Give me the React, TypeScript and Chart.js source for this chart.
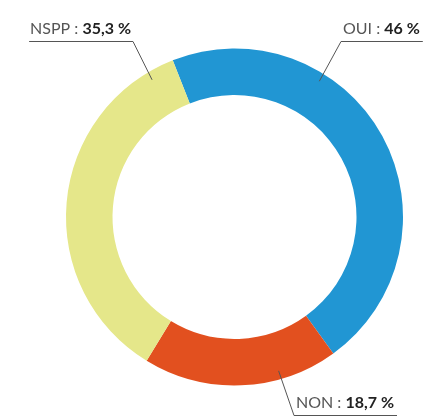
import React, { useEffect, useRef } from "react";
import { Chart, registerables } from "chart.js";

Chart.register(...registerables);

const categories = ["OUI", "NON", "NSPP"];
const values = [46, 18.7, 35.3];
const valueLabels = ["46 %", "18,7 %", "35,3 %"];
const colors = ["#2196D3", "#E2501F", "#E5E78A"];

// label layout: angle (deg clockwise from 12 o'clock) where the leader touches the ring,
// elbow point of the leader, and which side the text extends to
const leaderAngles = [32, 164, -31];
const elbows = [
  { x: 341, y: 41, side: "right" },
  { x: 294, y: 415, side: "right" },
  { x: 133, y: 41, side: "left" },
];

const FONT_FAMILY = "Lato, 'Open Sans', sans-serif";
const FONT_SIZE = 16;

const labelPlugin = {
  id: "leaderLabels",
  afterDraw(chart: any) {
    const ctx = chart.ctx as CanvasRenderingContext2D;
    const meta = chart.getDatasetMeta(0);
    ctx.save();
    meta.data.forEach((arc: any, i: number) => {
      const cx = arc.x;
      const cy = arc.y;
      const r = arc.outerRadius * 0.95;
      const a = ((leaderAngles[i] - 90) * Math.PI) / 180;
      const px = cx + r * Math.cos(a);
      const py = cy + r * Math.sin(a);
      const e = elbows[i];
      const nameText = categories[i] + " : ";
      const valText = valueLabels[i];
      ctx.font = `400 ${FONT_SIZE}px ${FONT_FAMILY}`;
      const w1 = ctx.measureText(nameText).width;
      ctx.font = `700 ${FONT_SIZE}px ${FONT_FAMILY}`;
      const w2 = ctx.measureText(valText).width;
      const tw = w1 + w2;
      let textX: number;
      let lineStart: number;
      let lineEnd: number;
      if (e.side === "right") {
        textX = e.x + 2;
        lineStart = e.x;
        lineEnd = textX + tw + 3;
      } else {
        lineEnd = e.x;
        textX = e.x - 2 - tw;
        lineStart = textX - 1;
      }
      ctx.strokeStyle = "#555555";
      ctx.lineWidth = 1;
      ctx.beginPath();
      ctx.moveTo(px, py);
      ctx.lineTo(e.x, e.y + 0.5);
      ctx.moveTo(lineStart, e.y + 0.5);
      ctx.lineTo(lineEnd, e.y + 0.5);
      ctx.stroke();
      ctx.textBaseline = "alphabetic";
      ctx.textAlign = "left";
      ctx.font = `400 ${FONT_SIZE}px ${FONT_FAMILY}`;
      ctx.fillStyle = "#555555";
      ctx.fillText(nameText, textX, e.y - 7);
      ctx.font = `700 ${FONT_SIZE}px ${FONT_FAMILY}`;
      ctx.fillStyle = "#222222";
      ctx.fillText(valText, textX + w1, e.y - 7);
    });
    ctx.restore();
  },
};

export default function App() {
  const ref = useRef<HTMLCanvasElement | null>(null);
  useEffect(() => {
    if (!ref.current) return;
    const chart = new Chart(ref.current, {
      type: "doughnut",
      data: {
        labels: categories,
        datasets: [
          {
            data: values,
            backgroundColor: colors,
            borderWidth: 0,
            hoverOffset: 0,
          },
        ],
      },
      options: {
        responsive: false,
        animation: false,
        cutout: "72.4%",
        rotation: -21.5,
        layout: { padding: { left: 66, right: 42, top: 48.5, bottom: 30.5 } },
        plugins: {
          legend: { display: false },
          tooltip: { enabled: false },
        },
      },
      plugins: [labelPlugin],
    });
    return () => chart.destroy();
  }, []);
  return (
    <div style={{ position: "absolute", left: 0, top: 0, width: 445, height: 416, background: "#fff" }}>
      <canvas ref={ref} width={445} height={416} />
    </div>
  );
}
